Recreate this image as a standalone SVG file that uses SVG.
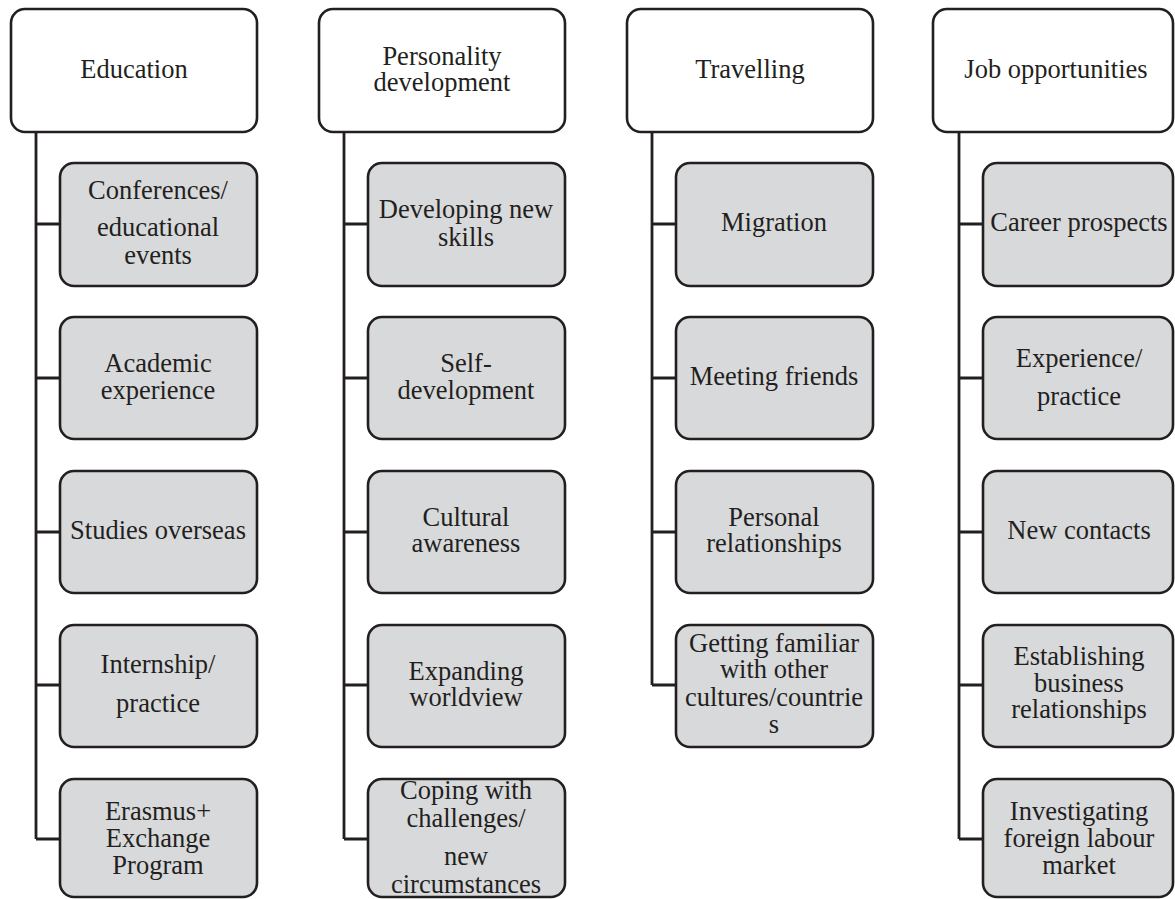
<svg xmlns="http://www.w3.org/2000/svg" width="1175" height="899" viewBox="0 0 1175 899">
<style>
.hd{fill:#ffffff;stroke:#231f20;stroke-width:2.6}
.ch{fill:#d8d9db;stroke:#231f20;stroke-width:2.6}
.ln{fill:none;stroke:#231f20;stroke-width:2.8}
text{font-family:"Liberation Serif","Times New Roman",serif;font-size:26.5px;fill:#231f20;text-anchor:middle}
</style>
<rect width="1175" height="899" fill="#ffffff"/>
<g id="connectors">
<path class="ln" d="M36 132V839M36 224H60M36 378H60M36 532H60M36 685H60M36 839H60"/>
<path class="ln" d="M344 132V839M344 224H368M344 378H368M344 532H368M344 685H368M344 839H368"/>
<path class="ln" d="M652 132V685M652 224H676M652 378H676M652 532H676M652 685H676"/>
<path class="ln" d="M959 132V839M959 224H983M959 378H983M959 532H983M959 685H983M959 839H983"/>
</g>
<g id="n-education"><rect class="hd" x="11" y="9" width="246" height="123" rx="14"/><text x="134" y="78">Education</text></g>
<g id="n-personality"><rect class="hd" x="319" y="9" width="246" height="123" rx="14"/><text x="442" y="65">Personality</text><text x="442" y="91">development</text></g>
<g id="n-travelling"><rect class="hd" x="627" y="9" width="246" height="123" rx="14"/><text x="750" y="78">Travelling</text></g>
<g id="n-job"><rect class="hd" x="933" y="9" width="240" height="123" rx="14"/><text x="1056" y="78">Job opportunities</text></g>

<g id="n-conferences"><rect class="ch" x="60" y="163" width="197" height="123" rx="14"/><text x="158" y="199">Conferences/</text><text x="158" y="236">educational</text><text x="158" y="264">events</text></g>
<g id="n-academic"><rect class="ch" x="60" y="317" width="197" height="122" rx="14"/><text x="158" y="372">Academic</text><text x="158" y="399">experience</text></g>
<g id="n-studies"><rect class="ch" x="60" y="471" width="197" height="122" rx="14"/><text x="158" y="539">Studies overseas</text></g>
<g id="n-internship"><rect class="ch" x="60" y="625" width="197" height="122" rx="14"/><text x="158" y="673">Internship/</text><text x="158" y="712">practice</text></g>
<g id="n-erasmus"><rect class="ch" x="60" y="779" width="197" height="118" rx="14"/><text x="158" y="820">Erasmus+</text><text x="158" y="847">Exchange</text><text x="158" y="874">Program</text></g>

<g id="n-skills"><rect class="ch" x="368" y="163" width="197" height="123" rx="14"/><text x="466" y="218">Developing new</text><text x="466" y="246">skills</text></g>
<g id="n-self"><rect class="ch" x="368" y="317" width="197" height="122" rx="14"/><text x="466" y="372">Self-</text><text x="466" y="399">development</text></g>
<g id="n-cultural"><rect class="ch" x="368" y="471" width="197" height="122" rx="14"/><text x="466" y="526">Cultural</text><text x="466" y="552">awareness</text></g>
<g id="n-expanding"><rect class="ch" x="368" y="625" width="197" height="122" rx="14"/><text x="466" y="680">Expanding</text><text x="466" y="706">worldview</text></g>
<g id="n-coping"><rect class="ch" x="368" y="779" width="197" height="118" rx="14"/><text x="466" y="799">Coping with</text><text x="466" y="827">challenges/</text><text x="466" y="865">new</text><text x="466" y="893">circumstances</text></g>

<g id="n-migration"><rect class="ch" x="676" y="163" width="197" height="123" rx="14"/><text x="774" y="231">Migration</text></g>
<g id="n-friends"><rect class="ch" x="676" y="317" width="197" height="122" rx="14"/><text x="774" y="385">Meeting friends</text></g>
<g id="n-personal"><rect class="ch" x="676" y="471" width="197" height="122" rx="14"/><text x="774" y="526">Personal</text><text x="774" y="552">relationships</text></g>
<g id="n-familiar"><rect class="ch" x="676" y="625" width="197" height="122" rx="14"/><text x="774" y="652">Getting familiar</text><text x="774" y="678">with other</text><text x="774" y="706">cultures/countrie</text><text x="774" y="733">s</text></g>

<g id="n-career"><rect class="ch" x="983" y="163" width="190" height="123" rx="14"/><text x="1079" y="231">Career prospects</text></g>
<g id="n-experience"><rect class="ch" x="983" y="317" width="190" height="122" rx="14"/><text x="1079" y="367">Experience/</text><text x="1079" y="405">practice</text></g>
<g id="n-contacts"><rect class="ch" x="983" y="471" width="190" height="122" rx="14"/><text x="1079" y="539">New contacts</text></g>
<g id="n-business"><rect class="ch" x="983" y="625" width="190" height="122" rx="14"/><text x="1079" y="665">Establishing</text><text x="1079" y="692">business</text><text x="1079" y="718">relationships</text></g>
<g id="n-labour"><rect class="ch" x="983" y="779" width="190" height="118" rx="14"/><text x="1079" y="820">Investigating</text><text x="1079" y="847">foreign labour</text><text x="1079" y="874">market</text></g>
</svg>
